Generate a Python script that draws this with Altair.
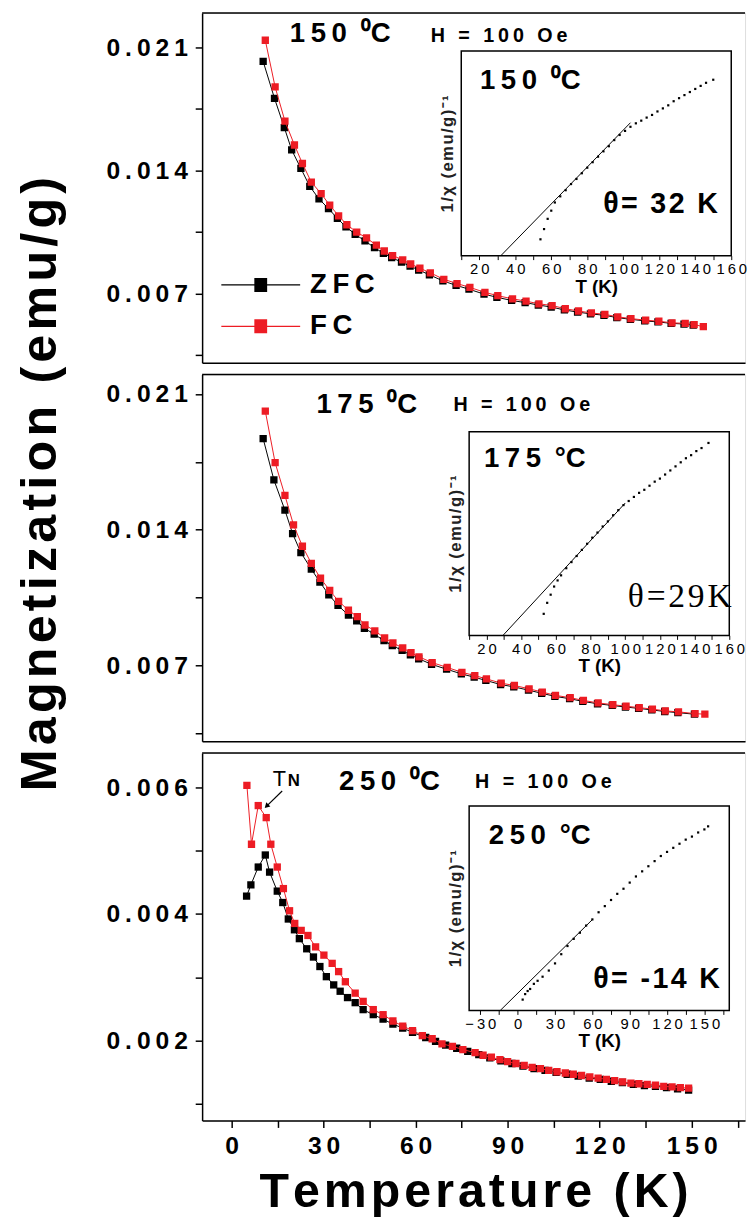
import altair as alt
import pandas as pd

# ---------------- main panels: ZFC / FC magnetization ----------------
top_fc_T = [11.0, 14.2, 17.4, 20.5, 23.1, 26.0, 29.2, 32.0, 34.9, 37.6, 40.8, 44.0, 47.2, 49.8, 52.5, 55.8, 58.4, 61.4, 64.8, 69.2,
            73.5, 77.7, 82.6, 86.8, 91.6, 96.0, 100.2, 104.5, 108.8, 113.1, 117.3, 121.7, 125.9, 130.2, 135.0, 139.3, 143.6, 147.9, 150.8, 153.8]
top_fc_M = [0.0214, 0.01875, 0.01681, 0.01545, 0.01440, 0.01334, 0.01269, 0.01203, 0.01143, 0.01092, 0.01050, 0.01017, 0.00976, 0.00943,
            0.00917, 0.00893, 0.00869, 0.00845, 0.00819, 0.00782, 0.00758, 0.00736, 0.00708, 0.00689, 0.00671, 0.00658, 0.00643, 0.00633,
            0.00615, 0.00602, 0.00591, 0.00583, 0.00569, 0.00559, 0.00550, 0.00544, 0.00535, 0.00532, 0.00525, 0.00513]
top_zfc_T = [10.3, 14.0, 17.2, 19.6, 22.6, 25.5, 28.5, 31.6, 34.5, 37.3, 40.3, 43.5, 46.6, 49.5, 52.2, 55.4, 58.2, 61.0, 64.5, 68.9,
             73.2, 77.4, 82.3, 86.5, 91.3, 95.7, 100.0, 104.2, 108.5, 112.8, 117.0, 121.4, 125.6, 130.0, 134.7, 139.0, 143.3, 147.5, 150.5]
top_zfc_M = [0.0202, 0.0181, 0.01644, 0.01517, 0.01412, 0.01310, 0.01239, 0.01184, 0.01128, 0.01080, 0.01038, 0.01000, 0.00962, 0.00930,
             0.00905, 0.00880, 0.00857, 0.00835, 0.00808, 0.00773, 0.00748, 0.00726, 0.00698, 0.00680, 0.00662, 0.00650, 0.00636, 0.00625,
             0.00608, 0.00596, 0.00586, 0.00578, 0.00565, 0.00555, 0.00546, 0.00540, 0.00532, 0.00528, 0.00522]

mid_fc_T = [11.0, 14.2, 17.4, 20.2, 23.1, 26.0, 29.0, 32.0, 34.9, 38.1, 41.0, 43.5, 46.7, 49.9, 52.6, 55.8, 58.5, 61.1, 65.4, 70.3,
            75.1, 79.3, 83.1, 87.9, 92.2, 97.0, 101.3, 105.6, 110.4, 114.7, 119.5, 124.3, 128.6, 132.9, 137.2, 141.4, 145.7, 151.1, 154.3]
mid_fc_M = [0.02012, 0.01746, 0.01577, 0.01425, 0.01315, 0.01227, 0.01150, 0.01087, 0.01031, 0.00985, 0.00952, 0.00909, 0.00879, 0.00842,
            0.00816, 0.00791, 0.00766, 0.00745, 0.00715, 0.00690, 0.00665, 0.00648, 0.00631, 0.00609, 0.00597, 0.00580, 0.00563, 0.00546,
            0.00534, 0.00520, 0.00507, 0.00498, 0.00490, 0.00483, 0.00475, 0.00466, 0.00461, 0.00452, 0.00449]
mid_zfc_T = [10.3, 13.8, 17.4, 19.9, 22.6, 26.0, 28.8, 31.7, 34.7, 38.1, 40.8, 43.3, 46.5, 49.7, 52.4, 55.6, 58.3, 61.0, 65.2, 70.1,
             74.9, 79.1, 82.9, 87.7, 92.0, 96.8, 101.1, 105.4, 110.2, 114.5, 119.3, 124.1, 128.4, 132.7, 137.0, 141.2, 145.5, 150.9]
mid_zfc_M = [0.01870, 0.01657, 0.01501, 0.01380, 0.01282, 0.01197, 0.01130, 0.01065, 0.01010, 0.00960, 0.00930, 0.00892, 0.00862, 0.00828,
             0.00803, 0.00778, 0.00755, 0.00735, 0.00706, 0.00681, 0.00657, 0.00640, 0.00623, 0.00602, 0.00590, 0.00573, 0.00557, 0.00541,
             0.00529, 0.00515, 0.00503, 0.00494, 0.00486, 0.00479, 0.00471, 0.00463, 0.00457, 0.00449]

bot_fc_T = [5.0, 6.5, 8.7, 11.3, 12.8, 14.9, 16.9, 18.9, 20.6, 22.7, 24.9, 27.4, 30.1, 32.8, 34.9, 37.1, 40.3, 42.9, 46.2, 49.4,
            52.6, 55.8, 59.0, 62.2, 65.4, 68.6, 72.0, 75.4, 79.4, 82.0, 84.7, 87.5, 90.0, 92.7, 95.4, 98.0, 100.7, 103.4, 106.1, 108.8,
            111.4, 114.1, 116.8, 119.5, 122.2, 124.9, 127.5, 130.2, 132.8, 135.5, 138.2, 140.9, 143.6, 146.3, 149.0]
bot_fc_M = [0.00603, 0.00510, 0.00571, 0.00552, 0.00510, 0.00474, 0.00440, 0.00405, 0.00385, 0.00374, 0.00366, 0.00348, 0.00335, 0.00322,
            0.00309, 0.00293, 0.00275, 0.00262, 0.00249, 0.00241, 0.00231, 0.00223, 0.00216, 0.00208, 0.00203, 0.00195, 0.00191, 0.00186,
            0.00181, 0.00177, 0.00174, 0.00170, 0.00167, 0.00164, 0.00161, 0.00158, 0.00156, 0.00153, 0.00151, 0.00149, 0.00147, 0.00145,
            0.00143, 0.00141, 0.00139, 0.00137, 0.00135, 0.00133, 0.00132, 0.00131, 0.00130, 0.00128, 0.00127, 0.00126, 0.00125]
bot_zfc_T = [4.9, 6.3, 8.7, 11.0, 12.4, 14.9, 16.7, 18.5, 20.5, 22.1, 24.5, 26.7, 28.8, 30.9, 33.3, 35.4, 37.8, 40.3, 42.9, 46.2,
             49.4, 52.6, 55.8, 59.0, 63.3, 66.5, 69.8, 73.4, 77.0, 80.6, 84.2, 87.8, 91.4, 95.0, 98.6, 102.2, 105.8, 109.4, 113.0, 116.6,
             120.2, 123.8, 127.4, 131.0, 134.6, 138.2, 141.8, 145.4, 149.0]
bot_zfc_M = [0.00428, 0.00446, 0.00474, 0.00493, 0.00466, 0.00436, 0.00418, 0.00392, 0.00375, 0.00361, 0.00345, 0.00332, 0.00317, 0.00301,
             0.00288, 0.00278, 0.00268, 0.00260, 0.00249, 0.00241, 0.00234, 0.00226, 0.00220, 0.00213, 0.00205, 0.00199, 0.00193, 0.00188,
             0.00183, 0.00178, 0.00173, 0.00168, 0.00164, 0.00160, 0.00156, 0.00153, 0.00150, 0.00147, 0.00144, 0.00141, 0.00139, 0.00136,
             0.00134, 0.00131, 0.00129, 0.00128, 0.00126, 0.00124, 0.00122]

# ---------------- insets: 1/chi vs T (arbitrary units 0..100) ----------------
in1_T = [54, 56, 58, 60, 62, 65, 68, 71, 74, 77, 80, 83, 86, 89, 92, 95, 98, 101, 104, 107, 110, 113, 116, 119, 122, 125, 128, 131,
         134, 137, 140, 143, 146, 150]
in1_V = [8, 13, 18, 22, 26, 29, 32, 35, 37.5, 40.3, 43, 45.7, 48.4, 51, 53.5, 56.5, 59, 61, 63, 64.7, 66, 67.5, 68.8, 70.5, 72, 73.5,
         75.5, 77, 78.5, 80, 81.5, 83, 84.5, 86]
in1_fit_T = [32, 104]
in1_fit_V = [0, 65]

in2_T = [53, 55, 57, 59, 61, 63, 66, 69, 72, 75, 78, 81, 84, 87, 90, 93, 96, 99, 102, 105, 108, 111, 114, 117, 120, 123, 126, 129,
         132, 135, 138, 141, 144, 148]
in2_V = [10.6, 16, 20, 24, 27, 29.5, 33, 36, 39, 42, 45, 48, 50.5, 53.5, 56, 59, 61.5, 64, 66, 68, 70, 71.5, 73.5, 75.5, 77, 79, 81,
         83, 85, 87, 88.5, 90.5, 92, 94.5]
in2_fit_T = [29.5, 100]
in2_fit_V = [0, 65]

in3_T = [4, 6, 8, 10, 13, 16, 20, 25, 30, 35, 40, 45, 50, 55, 60, 65, 70, 75, 80, 85, 90, 95, 100, 105, 110, 115, 120, 125, 130, 135,
         140, 145, 150, 153]
in3_V = [5.3, 8, 9.5, 10.5, 13, 14.5, 16.5, 19.5, 23, 27.5, 31.5, 35, 38, 41.5, 44.5, 48, 51, 54, 57, 59.5, 62.5, 65.5, 68, 70.5, 73,
         75.5, 77.5, 79.5, 81.5, 83.5, 85, 87, 88.5, 90]
in3_fit_T = [-14, 60]
in3_fit_V = [0, 44.4]

# ---------------- ticks ----------------
x_ticks = [0, 15, 30, 45, 60, 75, 90, 105, 120, 135, 150, 165]
x_labeled = [0, 30, 60, 90, 120, 150]
y_ticks_hi = [0.0035, 0.007, 0.0105, 0.014, 0.0175, 0.021]
y_labeled_hi = [0.007, 0.014, 0.021]
y_ticks_lo = [0.001, 0.002, 0.003, 0.004, 0.005, 0.006]
y_labeled_lo = [0.002, 0.004, 0.006]
in12_ticks = [10, 20, 30, 40, 50, 60, 70, 80, 90, 100, 110, 120, 130, 140, 150, 160]
in12_labeled = [20, 40, 60, 80, 100, 120, 140, 160]
in3_ticks = [-30, -15, 0, 15, 30, 45, 60, 75, 90, 105, 120, 135, 150, 165]
in3_labeled = [-30, 0, 30, 60, 90, 120, 150]

# TN arrow annotation (data units of bottom panel)
tn_arrow_T = [16.5, 11.6]
tn_arrow_M = [0.00594, 0.00571]

# ---------------- style ----------------
THIN = "\u2009"
HAIR = "\u200a"
EN = "\u2002"
FONT = "Liberation Sans"
RED = "#ed1c24"
W = 551
X_DOMAIN = [-9.6, 167.4]
SERIES = ["ZFC", "FC"]


def spaced(s, sep=THIN):
    return sep.join(s)


def label_expr(labeled, fmt):
    arr = "[" + ",".join(repr(v) for v in labeled) + "]"
    return ("indexof(" + arr + ", datum.value) >= 0 ? join(split(format(datum.value, '" + fmt + "'), ''), '"
            + THIN + "') : ''")


def txt(s, px, py, size, weight="bold", font=FONT, align="left"):
    return alt.Chart(pd.DataFrame({"t": [s]})).mark_text(
        align=align, baseline="middle", font=font, fontSize=size, fontWeight=weight, color="black"
    ).encode(x=alt.value(px), y=alt.value(py), text="t:N")


def main_panel(fcT, fcM, zT, zM, ydom, yticks, ylabeled, h, bottom_axis, legend, texts, extra=None):
    df = pd.DataFrame({"T": zT + fcT, "M": zM + fcM,
                       "series": ["ZFC"] * len(zT) + ["FC"] * len(fcT)})
    if bottom_axis:
        xaxis = alt.Axis(values=x_ticks, labelExpr=label_expr(x_labeled, "d"),
                         title=spaced("Temperature (K)", HAIR),
                         labelFont=FONT, labelFontSize=25, labelFontWeight="bold", labelColor="black",
                         labelPadding=6, titleFont=FONT, titleFontSize=49, titleFontWeight="bold",
                         titleColor="black", titlePadding=10, tickSize=7, tickWidth=1.5, tickColor="black",
                         domainColor="black", domainWidth=1.5, grid=False, labelFlush=False, labelOverlap=False)
    else:
        xaxis = alt.Axis(labels=False, ticks=False, title=None, domainColor="black", domainWidth=1.5, grid=False)
    yaxis = alt.Axis(values=yticks, labelExpr=label_expr(ylabeled, ".3f"), title=None,
                     labelFont=FONT, labelFontSize=25, labelFontWeight="bold", labelColor="black",
                     labelPadding=8, tickSize=7, tickWidth=1.5, tickColor="black",
                     domainColor="black", domainWidth=1.5, grid=False, labelFlush=False, labelOverlap=False)
    x = alt.X("T:Q", scale=alt.Scale(domain=X_DOMAIN, nice=False, zero=False), axis=xaxis)
    y = alt.Y("M:Q", scale=alt.Scale(domain=ydom, nice=False, zero=False), axis=yaxis)
    cscale = alt.Scale(domain=SERIES, range=["black", RED])
    base = alt.Chart(df)
    layers = []
    for s in SERIES:
        sub = base.transform_filter(alt.datum.series == s)
        layers.append(sub.mark_line(strokeWidth=1, clip=True).encode(
            x=x, y=y, color=alt.Color("series:N", scale=cscale, legend=legend)))
        layers.append(sub.mark_point(shape="square", filled=True, size=55, opacity=1, clip=True).encode(
            x=x, y=y, fill=alt.Fill("series:N", scale=cscale, legend=None)))
    top_rule = alt.Chart(pd.DataFrame({"k": [0]})).mark_rule(color="black", strokeWidth=1.5).encode(
        x=alt.value(0), x2=alt.value(W), y=alt.value(0))
    layers.append(top_rule)
    layers += texts
    if extra:
        layers += extra
    return alt.layer(*layers)


def inset_panel(dT, dV, fT, fV, xdom, xrng, yrng, xticks, xlabeled, off_x, off_y, texts):
    xs = alt.Scale(domain=xdom, range=xrng, nice=False, zero=False)
    ys = alt.Scale(domain=[0, 100], range=yrng, nice=False, zero=False)
    xaxis = alt.Axis(orient="bottom", offset=off_x, values=xticks, labelExpr=label_expr(xlabeled, "d"),
                     title="T (K)", labelFont=FONT, labelFontSize=15, labelFontWeight="normal", labelColor="black",
                     labelPadding=2, titleFont=FONT, titleFontSize=19, titleFontWeight="bold", titleColor="black",
                     titlePadding=1, tickSize=4, tickWidth=1, tickColor="black", domain=False, grid=False,
                     labelFlush=False, labelOverlap=False)
    yaxis = alt.Axis(orient="left", offset=off_y, labels=False, ticks=False, domain=False, grid=False,
                     title=spaced("1/χ (emu/g)⁻¹", HAIR), titleFont=FONT, titleFontSize=17, titleFontWeight="bold",
                     titleColor="#222", titlePadding=5)
    box = pd.DataFrame({"x0": [xdom[0]], "x1": [xdom[1]], "y0": [0], "y1": [100]})
    rect = alt.Chart(box).mark_rect(fillOpacity=0, stroke="black", strokeWidth=1.5).encode(
        x=alt.X("x0:Q", scale=xs, axis=xaxis), x2="x1:Q",
        y=alt.Y("y0:Q", scale=ys, axis=yaxis), y2="y1:Q")
    fit = alt.Chart(pd.DataFrame({"T": fT, "V": fV})).mark_line(color="black", strokeWidth=1).encode(
        x=alt.X("T:Q", scale=xs, axis=xaxis), y=alt.Y("V:Q", scale=ys, axis=yaxis))
    dots = alt.Chart(pd.DataFrame({"T": dT, "V": dV})).mark_point(
        shape="square", filled=True, size=5, color="black", opacity=1).encode(
        x=alt.X("T:Q", scale=xs, axis=xaxis), y=alt.Y("V:Q", scale=ys, axis=yaxis))
    return alt.layer(rect, fit, dots, *texts)


# legend glyph: an 80 px line with a 13 px filled square (drawn as stacked strokes), in a 20 px symbol box
legend_sym = "M-4,0H4" + "".join("M-0.65,%.2fH0.65" % (-0.65 + 0.1 * i) for i in range(14))
legend = alt.Legend(orient="none", legendX=45.5, legendY=262, title=None, symbolType=legend_sym, symbolSize=400,
                    symbolStrokeWidth=1.2, labelFont=FONT, labelFontSize=28, labelFontWeight="bold",
                    labelColor="black", labelOffset=36, rowPadding=14,
                    labelExpr="join(split(datum.label, ''), '" + THIN + "')")

H_TOP, H_MID, H_BOT = 355, 372, 373
hoe = spaced("H = 100 Oe")
deg0 = EN + "⁰C"
degc = EN + "°C"

top_main = main_panel(top_fc_T, top_fc_M, top_zfc_T, top_zfc_M, [0.00308, 0.02295], y_ticks_hi, y_labeled_hi,
                      H_TOP, False, legend,
                      [txt(spaced("150") + deg0, 89, 21, 28), txt(hoe, 232, 23, 20)])
top_inset = inset_panel(in1_T, in1_V, in1_fit_T, in1_fit_V, [10, 160], [263, 537], [246.3, 38.7],
                        in12_ticks, in12_labeled, -(H_TOP - 246.3), -263,
                        [txt(spaced("150") + deg0, 282, 69, 28), txt(spaced("θ= 32 K", HAIR), 407, 194, 29)])
top = alt.layer(top_main, top_inset).resolve_scale(x="independent", y="independent").properties(width=W, height=H_TOP)

mid_main = main_panel(mid_fc_T, mid_fc_M, mid_zfc_T, mid_zfc_M, [0.0031, 0.0220], y_ticks_hi, y_labeled_hi,
                      H_MID, False, None,
                      [txt(spaced("175") + deg0, 116, 31, 28), txt(hoe, 255, 31, 20)])
mid_inset = inset_panel(in2_T, in2_V, in2_fit_T, in2_fit_V, [10, 160], [271, 535], [264.7, 58],
                        in12_ticks, in12_labeled, -(H_MID - 264.7), -271,
                        [txt(spaced("175") + degc, 286, 86, 28),
                         txt(spaced("θ=29K", HAIR), 432, 226, 34, "normal", "Liberation Serif")])
mid = alt.layer(mid_main, mid_inset).resolve_scale(x="independent", y="independent").properties(width=W, height=H_MID)

arrow_df = pd.DataFrame({"T": tn_arrow_T, "M": tn_arrow_M})
bx = alt.X("T:Q", scale=alt.Scale(domain=X_DOMAIN, nice=False, zero=False))
by = alt.Y("M:Q", scale=alt.Scale(domain=[0.00074, 0.00654], nice=False, zero=False))
arrow_line = alt.Chart(arrow_df).mark_line(color="black", strokeWidth=1.2).encode(x=bx, y=by)
arrow_head = alt.Chart(arrow_df.tail(1)).mark_point(shape="triangle", angle=225, filled=True, size=35,
                                                    color="black", opacity=1).encode(x=bx, y=by)
tn_T = alt.Chart(pd.DataFrame({"T": [15.6], "M": [0.00612], "t": ["T"]})).mark_text(
    font=FONT, fontSize=22, color="black").encode(x=bx, y=by, text="t:N")
tn_N = alt.Chart(pd.DataFrame({"T": [20.3], "M": [0.00609], "t": ["N"]})).mark_text(
    font=FONT, fontSize=17, fontWeight="bold", color="black").encode(x=bx, y=by, text="t:N")

bot_main = main_panel(bot_fc_T, bot_fc_M, bot_zfc_T, bot_zfc_M, [0.00074, 0.00654], y_ticks_lo, y_labeled_lo,
                      H_BOT, True, None,
                      [txt(spaced("250") + deg0, 139, 30, 28), txt(hoe, 277, 30, 20)],
                      [arrow_line, arrow_head, tn_T, tn_N])
bot_inset = inset_panel(in3_T, in3_V, in3_fit_T, in3_fit_V, [-39, 170], [271, 535], [261.3, 53.7],
                        in3_ticks, in3_labeled, -(H_BOT - 261.3), -271,
                        [txt(spaced("250") + degc, 291, 84, 28), txt(spaced("θ= -14 K", HAIR), 397, 230, 29)])
bot = alt.layer(bot_main, bot_inset).resolve_scale(x="independent", y="independent").properties(width=W, height=H_BOT)

chart = alt.vconcat(top, mid, bot, spacing=4).resolve_scale(
    x="independent", y="independent", color="independent", fill="independent"
).properties(
    title=alt.TitleParams(spaced("Magnetization (emu/g)", HAIR), orient="left", anchor="middle", fontSize=51,
                          font=FONT, fontWeight="bold", color="black", offset=39, dx=132),
    padding={"left": 7, "top": -6, "right": 0, "bottom": 0},
).configure_view(strokeWidth=0).configure(background="white")

chart.save("out.html", embed_options={"renderer": "svg", "actions": False})
